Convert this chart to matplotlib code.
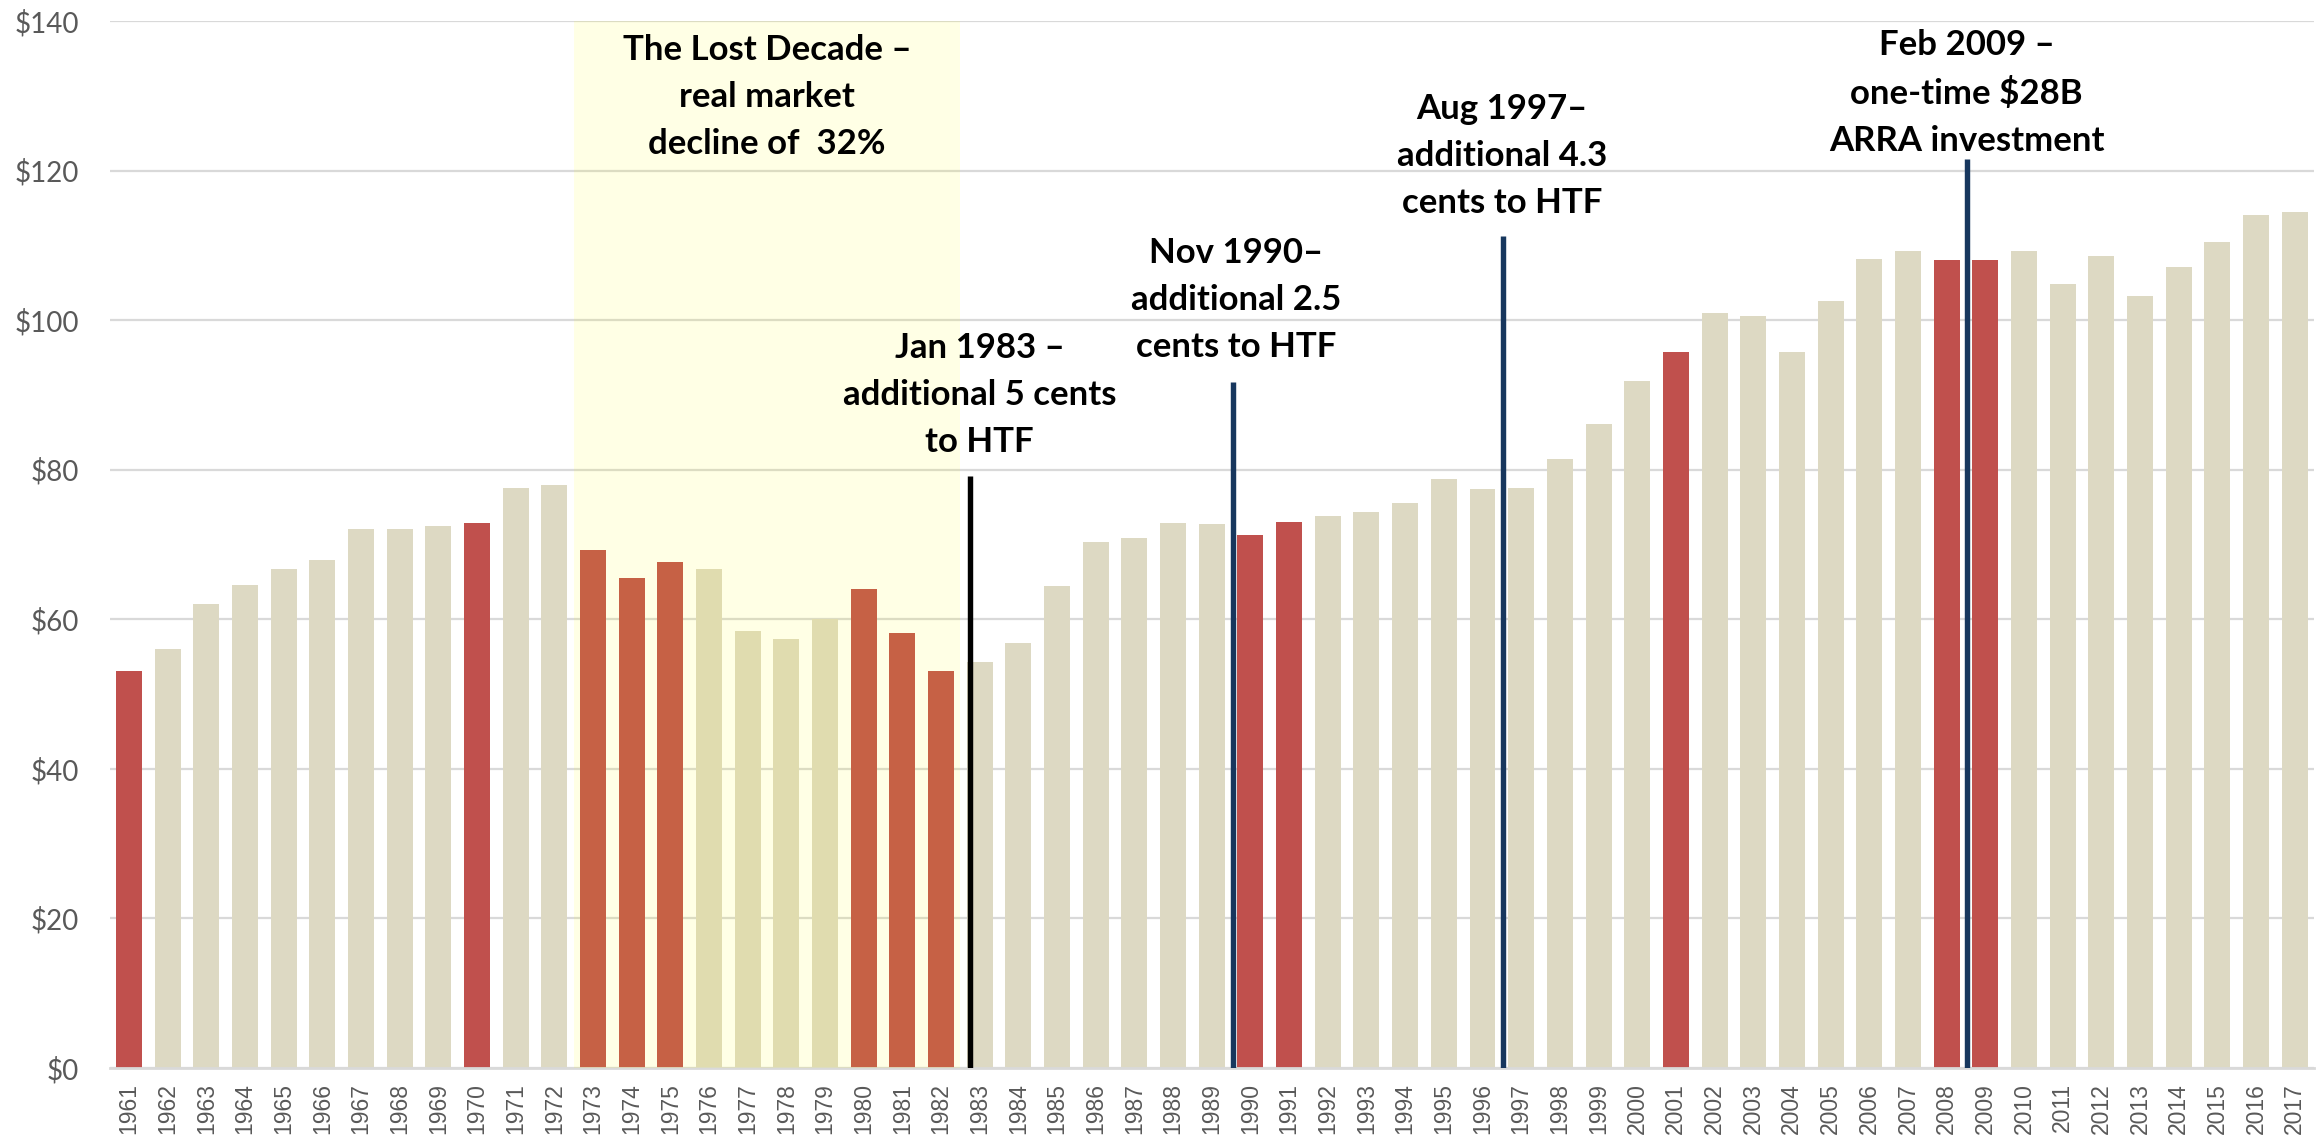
import matplotlib
matplotlib.use("Agg")
import matplotlib.pyplot as plt
import numpy as np

# ---------------- data ----------------
years = list(range(1961, 2018))
values = [53.1, 56.0, 62.0, 64.6, 66.7, 67.9, 72.1, 72.1, 72.5, 72.9,
          77.6, 78.0, 69.3, 65.5, 67.7, 66.7, 58.4, 57.4, 60.0, 64.0,
          58.2, 53.1, 54.3, 56.8, 64.4, 70.3, 70.9, 72.9, 72.8, 71.3,
          73.0, 73.8, 74.3, 75.5, 78.7, 77.4, 77.6, 81.4, 86.1, 91.9,
          95.8, 101.0, 100.6, 95.8, 102.6, 108.2, 109.3, 108.0, 108.0, 109.2,
          104.8, 108.6, 103.2, 107.1, 110.5, 114.1, 114.5]
red_years = [1961, 1970, 1973, 1974, 1975, 1980, 1981, 1982, 1990, 1991, 2001, 2008, 2009]
y_ticks = [0, 20, 40, 60, 80, 100, 120, 140]

lost_decade = (1973, 1982)
lost_decade_text = "The Lost Decade \u2013\nreal market\ndecline of  32%"
lost_decade_text_y = 129.8

# events: fractional position on the year axis, line top value, colour, label, label y
event_pos = [1982.755, 1989.56, 1996.53, 2008.54]
event_tops = [79.2, 91.7, 111.2, 121.6]
event_colors = ["#000000", "#17375E", "#17375E", "#17375E"]
event_labels = ["Jan 1983 \u2013\nadditional 5 cents\nto HTF",
                "Nov 1990\u2013\nadditional 2.5\ncents to HTF",
                "Aug 1997\u2013\nadditional 4.3\ncents to HTF",
                "Feb 2009 \u2013\none-time $28B\nARRA investment"]
event_label_x = [1983.0, 1989.62, 1996.5, 2008.52]
event_label_y = [90.0, 102.7, 121.9, 130.4]

# ---------------- figure ----------------
fig = plt.figure(figsize=(23.23, 11.35), dpi=100)
ax = fig.add_axes([0.0472, 0.05903, 0.9489, 0.92247])

x = np.arange(len(years))
colors = ["#C0504D" if y in red_years else "#DDD9C3" for y in years]
ax.bar(x, values, width=0.672, color=colors, zorder=2, linewidth=0)

ax.set_xlim(-0.5, len(years) - 0.5)
ax.set_ylim(0, 140)

ax.set_yticks(y_ticks)
ax.set_yticklabels([f"${v}" for v in y_ticks], fontfamily="Lato",
                   fontsize=20, color="#595959")
ax.set_xticks(x)
ax.set_xticklabels([str(y) for y in years], rotation=90,
                   fontfamily="Liberation Sans", fontsize=16.5, color="#595959")
ax.tick_params(axis="both", length=0)
ax.tick_params(axis="y", pad=22)
ax.tick_params(axis="x", pad=11)

for s in ["top", "right", "left"]:
    ax.spines[s].set_visible(False)
ax.spines["bottom"].set_color("#D9D9D9")
ax.spines["bottom"].set_linewidth(2)
ax.set_axisbelow(True)
ax.grid(axis="y", color="#D9D9D9", linewidth=1.6)

# Lost decade shading (semi-transparent overlay)
i0 = years.index(lost_decade[0]) - 0.5
i1 = years.index(lost_decade[1]) + 0.5
ax.axvspan(i0, i1, ymin=0, ymax=1, color="#FFFF00", alpha=0.1, lw=0, zorder=3)
ax.text((i0 + i1) / 2, lost_decade_text_y, lost_decade_text, ha="center",
        va="center", fontsize=25, fontweight="bold", fontfamily="Lato",
        linespacing=1.58, zorder=6, color="#000000")

# events
for pos, top, col, lab, lx, ly in zip(event_pos, event_tops, event_colors,
                                      event_labels, event_label_x, event_label_y):
    px = pos - years[0]
    ax.plot([px, px], [0, top], color=col, linewidth=3.9, zorder=5,
            solid_capstyle="butt")
    ax.text(lx - years[0], ly, lab, ha="center", va="center", fontsize=25,
            fontweight="bold", fontfamily="Lato", linespacing=1.58, zorder=6,
            color="#000000")

fig.savefig("out.png", dpi=100)
